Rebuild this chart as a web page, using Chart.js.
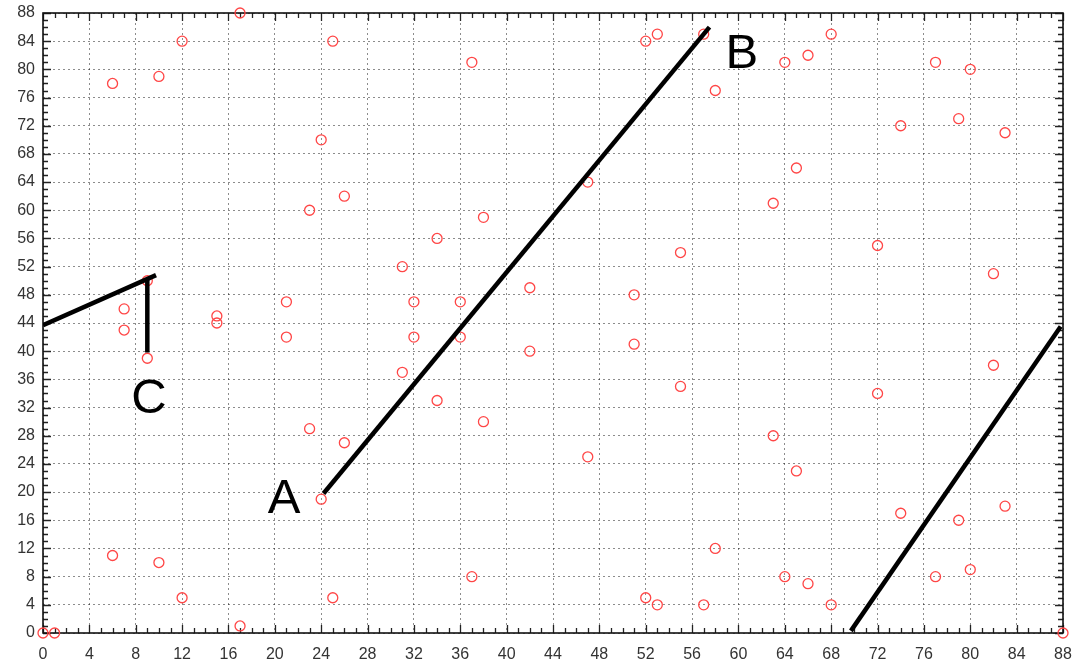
<!DOCTYPE html>
<html>
<head>
<meta charset="utf-8">
<script src="https://cdn.jsdelivr.net/npm/chart.js@4.4.1/dist/chart.umd.min.js"></script>
<style>
html,body{margin:0;padding:0;background:#fff;}
#wrap{width:1079px;height:663px;}
</style>
</head>
<body>
<div id="wrap"><canvas id="c" width="1079" height="663"></canvas></div>
<script>
// ---- data ----
const pointX = [0, 1, 88,
  6, 6, 7, 7, 9, 9, 10, 10, 12, 12, 15, 15, 17, 17, 21, 21, 23, 23, 24, 24, 25, 25, 26, 26,
  31, 31, 32, 32, 34, 34, 36, 36, 37, 37, 38, 38, 42, 42, 47, 47, 51, 51, 52, 52, 53, 53,
  55, 55, 57, 57, 58, 58, 63, 63, 64, 64, 65, 65, 66, 66, 68, 68, 72, 72, 74, 74, 77, 77,
  79, 79, 80, 80, 82, 82, 83, 83];
const pointY = [0, 0, 0,
  78, 11, 46, 43, 50, 39, 79, 10, 84, 5, 45, 44, 88, 1, 47, 42, 60, 29, 70, 19, 84, 5, 62, 27,
  52, 37, 47, 42, 56, 33, 47, 42, 81, 8, 59, 30, 49, 40, 64, 25, 48, 41, 84, 5, 85, 4,
  54, 35, 85, 4, 77, 12, 61, 28, 81, 8, 66, 23, 82, 7, 85, 4, 55, 34, 72, 17, 81, 8,
  73, 16, 80, 9, 51, 38, 71, 18];

const lineABX = [24.2, 57.5];
const lineABY = [19.8, 86.0];
const lineRightX = [69.7, 87.8];
const lineRightY = [0.3, 43.5];
const lineC1X = [0, 9.75];
const lineC1Y = [43.7, 50.8];
const lineC2X = [9, 9];
const lineC2Y = [50.3, 39.8];

const annotationText = ['A', 'B', 'C'];
const annotationX = [20.8, 60.3, 9.15];
const annotationY = [19.0, 82.1, 33.1];

const tickValues = [0, 4, 8, 12, 16, 20, 24, 28, 32, 36, 40, 44, 48, 52, 56, 60, 64, 68, 72, 76, 80, 84, 88];
const axisMin = 0, axisMax = 88;

// ---- build ----
const toPts = (xs, ys) => xs.map((x, i) => ({x: x, y: ys[i]}));
const lineDs = (xs, ys) => ({
  data: toPts(xs, ys), showLine: true, borderColor: '#000', borderWidth: 4.5,
  pointRadius: 0, pointHoverRadius: 0, fill: false
});

const framePlugin = {
  id: 'frameTicks',
  beforeDatasetsDraw(chart) {
    const {ctx, chartArea: a, scales} = chart;
    const xs = scales.x, ys = scales.y;
    ctx.save();
    ctx.strokeStyle = '#222';
    ctx.lineWidth = 1.3;
    ctx.beginPath();
    for (let v = axisMin; v <= axisMax; v++) {
      const major = (v % 4 === 0);
      const len = major ? 8 : 5;
      const px = Math.round(xs.getPixelForValue(v)) + 0.5;
      ctx.moveTo(px, a.bottom); ctx.lineTo(px, a.bottom - len);
      ctx.moveTo(px, a.top); ctx.lineTo(px, a.top + len);
      const py = Math.round(ys.getPixelForValue(v)) + 0.5;
      ctx.moveTo(a.left, py); ctx.lineTo(a.left + len, py);
      ctx.moveTo(a.right, py); ctx.lineTo(a.right - len, py);
    }
    ctx.stroke();
    ctx.lineWidth = 1.6;
    ctx.strokeStyle = '#111';
    ctx.strokeRect(a.left, a.top, a.right - a.left, a.bottom - a.top);
    ctx.restore();
  },
  afterDatasetsDraw(chart) {
    const {ctx, scales} = chart;
    ctx.save();
    ctx.fillStyle = '#000';
    ctx.font = '49px "Liberation Sans", Arial, sans-serif';
    ctx.textAlign = 'center';
    ctx.textBaseline = 'middle';
    annotationText.forEach((t, i) => {
      ctx.fillText(t, scales.x.getPixelForValue(annotationX[i]), scales.y.getPixelForValue(annotationY[i]));
    });
    ctx.restore();
  }
};

const axisCommon = (isX) => ({
  type: 'linear', min: axisMin, max: axisMax,
  afterBuildTicks: s => { s.ticks = tickValues.map(v => ({value: v})); },
  afterFit: s => {
    if (isX) s.height = 30; else s.width = 43;
    s.paddingTop = 0; s.paddingBottom = 0; s.paddingLeft = 0; s.paddingRight = 0;
  },
  grid: { color: 'rgba(0,0,0,0.45)', lineWidth: 1, drawTicks: false },
  border: { display: false, dash: [2, 3] },
  ticks: {
    color: '#333', padding: isX ? 12 : 8,
    font: { family: '"Liberation Sans", Arial, sans-serif', size: 16 },
    maxRotation: 0, autoSkip: false
  }
});

new Chart(document.getElementById('c'), {
  type: 'scatter',
  data: {
    datasets: [
      lineDs(lineABX, lineABY),
      lineDs(lineRightX, lineRightY),
      lineDs(lineC1X, lineC1Y),
      lineDs(lineC2X, lineC2Y),
      {
        data: toPts(pointX, pointY), showLine: false, clip: false,
        pointStyle: 'circle', pointRadius: 5, pointBorderWidth: 1.3,
        pointBackgroundColor: 'rgba(0,0,0,0)', pointBorderColor: '#ff4646',
        borderColor: '#ff4646', backgroundColor: 'rgba(0,0,0,0)'
      }
    ]
  },
  options: {
    responsive: false, animation: false, devicePixelRatio: 1,
    layout: { padding: { top: 13, right: 16, left: 0, bottom: 0 } },
    plugins: { legend: { display: false }, tooltip: { enabled: false } },
    events: [],
    scales: { x: axisCommon(true), y: axisCommon(false) }
  },
  plugins: [framePlugin]
});
</script>
</body>
</html>
